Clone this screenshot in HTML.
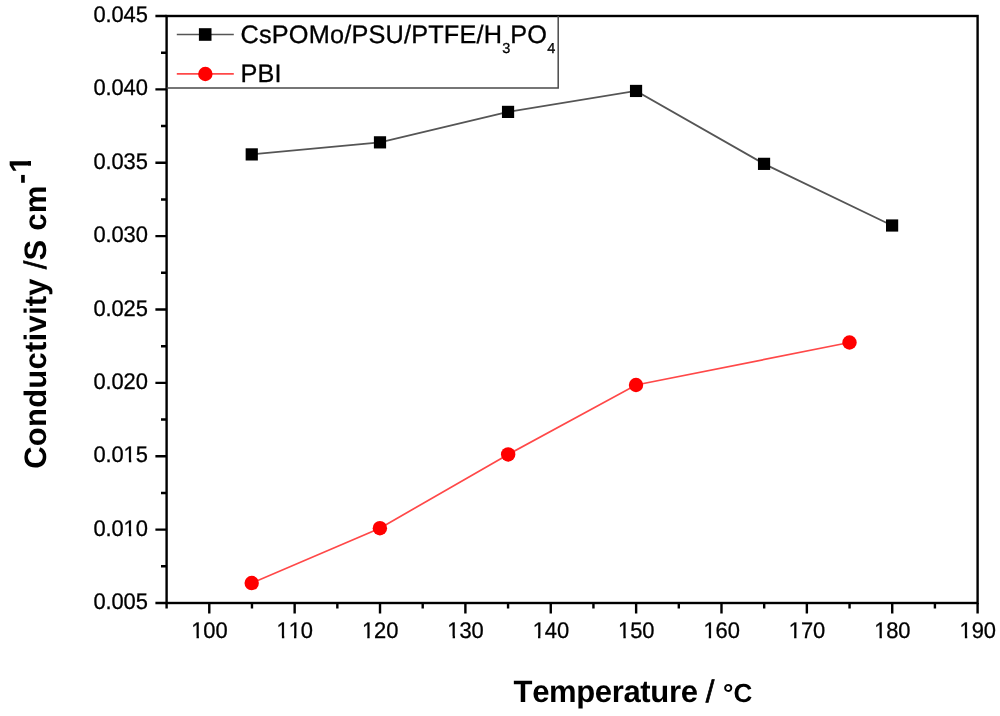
<!DOCTYPE html>
<html><head><meta charset="utf-8"><title>Conductivity vs Temperature</title>
<style>
html,body{margin:0;padding:0;background:#fff;}
body{width:1000px;height:716px;overflow:hidden;}
svg{display:block;}
text{font-family:"Liberation Sans",Arial,sans-serif;fill:#000;font-kerning:none;text-rendering:geometricPrecision;}
.wo{fill:#fff;}
.tl{font-size:22.6px;stroke:#000;stroke-width:0.3px;letter-spacing:-0.1px;}
.lg{font-size:25.3px;letter-spacing:0.18px;stroke:#000;stroke-width:0.3px;}
.sb{font-size:14.5px;letter-spacing:0;}
.at{font-size:31px;font-weight:bold;}
.dc{font-size:26px;letter-spacing:0;}
.sl{font-weight:normal;stroke:#000;stroke-width:0.7px;}
.sp{font-size:31px;}
.s1{font-size:31px;}
</style></head>
<body>
<svg width="1000" height="716" viewBox="0 0 1000 716">
<rect width="1000" height="716" fill="#fff"/>
<rect x="166.6" y="16.0" width="811.00" height="587.00" fill="none" stroke="#000" stroke-width="2.4"/>
<path d="M155.40 603.00H166.60M161.00 566.31H166.60M155.40 529.62H166.60M161.00 492.94H166.60M155.40 456.25H166.60M161.00 419.56H166.60M155.40 382.88H166.60M161.00 346.19H166.60M155.40 309.50H166.60M161.00 272.81H166.60M155.40 236.12H166.60M161.00 199.44H166.60M155.40 162.75H166.60M161.00 126.06H166.60M155.40 89.38H166.60M161.00 52.69H166.60M155.40 16.00H166.60M166.60 603.00V608.40M209.28 603.00V613.50M251.97 603.00V608.40M294.65 603.00V613.50M337.34 603.00V608.40M380.02 603.00V613.50M422.71 603.00V608.40M465.39 603.00V613.50M508.07 603.00V608.40M550.76 603.00V613.50M593.44 603.00V608.40M636.13 603.00V613.50M678.81 603.00V608.40M721.49 603.00V613.50M764.18 603.00V608.40M806.86 603.00V613.50M849.55 603.00V608.40M892.23 603.00V613.50M934.92 603.00V608.40M977.60 603.00V613.50" stroke="#000" stroke-width="2.4" fill="none"/>
<text id="y0" transform="translate(147.8 609.0) scale(0.97 1)" text-anchor="end" class="tl">0.005</text>
<text id="y1" transform="translate(147.8 535.62) scale(0.97 1)" text-anchor="end" class="tl">0.010</text><g class="wo"><rect x="124" y="533" width="4.89" height="4"/><rect x="131.27" y="533" width="3.73" height="4"/></g>
<text id="y2" transform="translate(147.8 462.25) scale(0.97 1)" text-anchor="end" class="tl">0.015</text><g class="wo"><rect x="124" y="460" width="4.89" height="4"/><rect x="131.27" y="460" width="3.73" height="4"/></g>
<text id="y3" transform="translate(147.8 388.88) scale(0.97 1)" text-anchor="end" class="tl">0.020</text>
<text id="y4" transform="translate(147.8 315.5) scale(0.97 1)" text-anchor="end" class="tl">0.025</text>
<text id="y5" transform="translate(147.8 242.12) scale(0.97 1)" text-anchor="end" class="tl">0.030</text>
<text id="y6" transform="translate(147.8 168.75) scale(0.97 1)" text-anchor="end" class="tl">0.035</text>
<text id="y7" transform="translate(147.8 95.38) scale(0.97 1)" text-anchor="end" class="tl">0.040</text>
<text id="y8" transform="translate(147.8 22.0) scale(0.97 1)" text-anchor="end" class="tl">0.045</text>
<text id="x100" transform="translate(209.38 638.2) scale(0.97 1)" text-anchor="middle" class="tl">100</text><g class="wo"><rect x="192" y="636" width="4.53" height="4"/><rect x="198.91" y="636" width="4.09" height="4"/></g>
<text id="x110" transform="translate(294.75 638.2) scale(0.97 1)" text-anchor="middle" class="tl">110</text><g class="wo"><rect x="277" y="636" width="4.90" height="4"/><rect x="284.28" y="636" width="3.72" height="4"/><rect x="289" y="636" width="4.98" height="4"/><rect x="296.36" y="636" width="4.64" height="4"/></g>
<text id="x120" transform="translate(380.12 638.2) scale(0.97 1)" text-anchor="middle" class="tl">120</text><g class="wo"><rect x="363" y="636" width="4.27" height="4"/><rect x="369.65" y="636" width="4.35" height="4"/></g>
<text id="x130" transform="translate(465.49 638.2) scale(0.97 1)" text-anchor="middle" class="tl">130</text><g class="wo"><rect x="448" y="636" width="4.64" height="4"/><rect x="455.02" y="636" width="3.98" height="4"/></g>
<text id="x140" transform="translate(550.86 638.2) scale(0.97 1)" text-anchor="middle" class="tl">140</text><g class="wo"><rect x="533" y="636" width="5.01" height="4"/><rect x="540.39" y="636" width="4.61" height="4"/></g>
<text id="x150" transform="translate(636.23 638.2) scale(0.97 1)" text-anchor="middle" class="tl">150</text><g class="wo"><rect x="619" y="636" width="4.38" height="4"/><rect x="625.76" y="636" width="4.24" height="4"/></g>
<text id="x160" transform="translate(721.59 638.2) scale(0.97 1)" text-anchor="middle" class="tl">160</text><g class="wo"><rect x="704" y="636" width="4.74" height="4"/><rect x="711.12" y="636" width="3.88" height="4"/></g>
<text id="x170" transform="translate(806.96 638.2) scale(0.97 1)" text-anchor="middle" class="tl">170</text><g class="wo"><rect x="790" y="636" width="4.11" height="4"/><rect x="796.49" y="636" width="4.51" height="4"/></g>
<text id="x180" transform="translate(892.33 638.2) scale(0.97 1)" text-anchor="middle" class="tl">180</text><g class="wo"><rect x="875" y="636" width="4.48" height="4"/><rect x="881.86" y="636" width="4.14" height="4"/></g>
<text id="x190" transform="translate(977.7 638.2) scale(0.97 1)" text-anchor="middle" class="tl">190</text><g class="wo"><rect x="960" y="636" width="4.85" height="4"/><rect x="967.23" y="636" width="3.77" height="4"/></g>
<polyline points="251.75,154.4 380.0,142.35 508.05,111.9 636.05,90.95 764.05,163.85 892.1,225.5" fill="none" stroke="#555" stroke-width="1.75"/>
<polyline points="251.7,583.05 379.9,528.2 508.15,454.45 636.0,385.0 849.5,342.5" fill="none" stroke="#ff4848" stroke-width="1.7"/>
<rect x="245.65" y="148.30" width="12.2" height="12.2" fill="#000"/>
<rect x="373.90" y="136.25" width="12.2" height="12.2" fill="#000"/>
<rect x="501.95" y="105.80" width="12.2" height="12.2" fill="#000"/>
<rect x="629.95" y="84.85" width="12.2" height="12.2" fill="#000"/>
<rect x="757.95" y="157.75" width="12.2" height="12.2" fill="#000"/>
<rect x="886.00" y="219.40" width="12.2" height="12.2" fill="#000"/>
<circle cx="251.7" cy="583.05" r="7.2" fill="#f00"/>
<circle cx="379.9" cy="528.2" r="7.2" fill="#f00"/>
<circle cx="508.15" cy="454.45" r="7.2" fill="#f00"/>
<circle cx="636.0" cy="385.0" r="7.2" fill="#f00"/>
<circle cx="849.5" cy="342.5" r="7.2" fill="#f00"/>
<path d="M166.6 88.1H558.2V16.0" fill="none" stroke="#4a4a4a" stroke-width="1.5"/>
<path d="M176.8 34.4H233.8" stroke="#555" stroke-width="1.5"/>
<rect x="198.9" y="28.2" width="12.6" height="12.6" fill="#000"/>
<path d="M176.8 73.9H233.8" stroke="#ff4848" stroke-width="1.6"/>
<circle cx="205.35" cy="74" r="7.2" fill="#f00"/>
<text x="240.5" y="42.9" class="lg">CsPOMo/PSU/PTFE/H<tspan class="sb" dy="10.3">3</tspan><tspan dy="-10.3">PO</tspan><tspan class="sb" dy="10.3">4</tspan></text>
<text x="240.5" y="82.0" class="lg">PBI</text>
<text x="513.6" y="702" class="at" style="letter-spacing:-0.35px">Temperature <tspan class="sl">/</tspan><tspan class="dc" x="723.0">°C</tspan></text>
<g transform="translate(46 468.8) rotate(-90)"><text id="yt" class="at" style="letter-spacing:0.24px">Conductivity <tspan class="sl">/</tspan>S cm<tspan class="sp" dx="1.5" dy="-15">-</tspan><tspan class="s1" dx="0.6">1</tspan></text><g class="wo"><rect x="297.02" y="-19.16" width="6.06" height="5.16"/><rect x="307.78" y="-19.16" width="5.12" height="5.16"/></g></g>
</svg>
</body></html>
